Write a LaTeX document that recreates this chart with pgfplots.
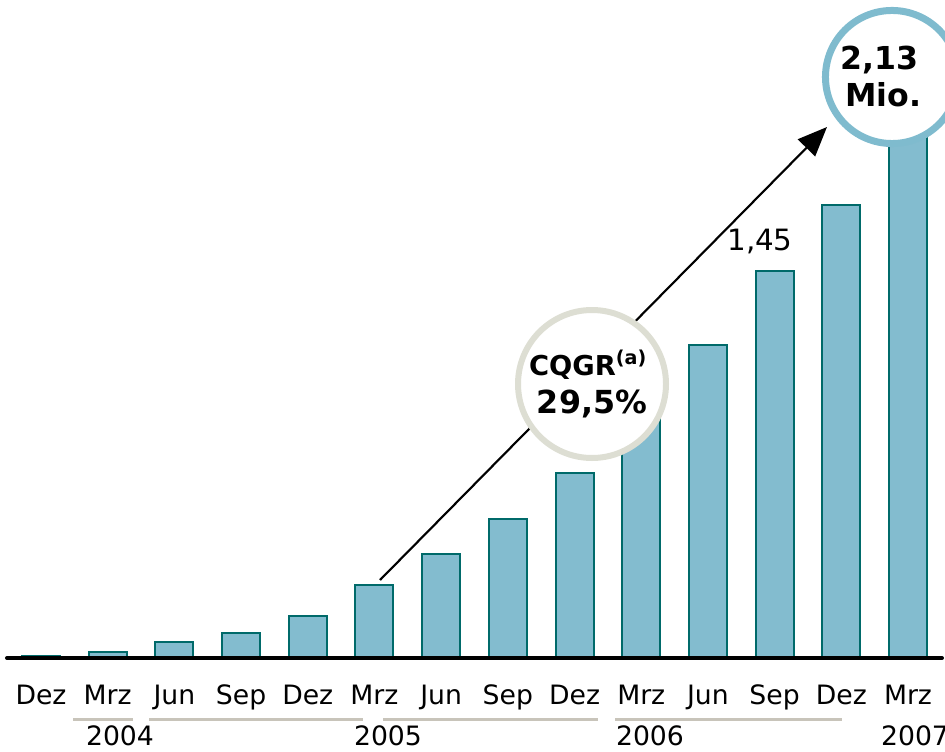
\documentclass[border=0pt]{standalone}
\usepackage{pgfplots}
\pgfplotsset{compat=1.18}
\usepackage{fontspec}
\setmainfont{DejaVu Sans}
\usetikzlibrary{arrows.meta}
\definecolor{barfill}{RGB}{131,188,207}
\definecolor{baredge}{RGB}{0,106,106}
\definecolor{yearline}{RGB}{200,196,186}
\definecolor{ringgrey}{RGB}{221,222,211}
\definecolor{ringblue}{RGB}{127,187,206}
% image pixel (x from left, y from top) -> tikz point; axis lower-left (px 7, 658) is the origin
\newcommand\pp[2]{({((#1)-7)*0.75pt},{(658-(#2))*0.75pt})}
\pgfplotstableread{
x y
0 0.009
1 0.024
2 0.059
3 0.095
4 0.158
5 0.273
6 0.39
7 0.521
8 0.693
9 0.90
10 1.173
11 1.45
12 1.697
13 2.13
}\datatable
\begin{document}
\begin{tikzpicture}
\useasboundingbox \pp{0}{751} rectangle \pp{945}{0};
\clip \pp{0}{751} rectangle \pp{945}{0};
\begin{axis}[
  at={(0,0)}, anchor=south west,
  scale only axis,
  width=701.25pt, height=493.5pt,
  xmin=-0.51, xmax=13.51,
  ymin=0, ymax=2.465,
  axis line style={draw=none},
  ytick=\empty,
  xtick=data,
  xticklabels={Dez,Mrz,Jun,Sep,Dez,Mrz,Jun,Sep,Dez,Mrz,Jun,Sep,Dez,Mrz},
  major tick length=0pt,
  xticklabel style={font=\fontsize{20}{24}\selectfont, anchor=base, yshift=-34.5pt},
  clip=false,
]
\addplot[ybar, bar width=28.5pt, fill=barfill, draw=baredge, line width=1.5pt] table[x=x,y=y] {\datatable};
\end{axis}
% baseline
\draw[line width=3pt, line cap=round] \pp{7}{658} -- \pp{942}{658};
% year lines
\draw[yearline, line width=2.25pt] \pp{73}{719} -- \pp{133}{719};
\draw[yearline, line width=2.25pt] \pp{149}{719} -- \pp{363}{719};
\draw[yearline, line width=2.25pt] \pp{383}{719} -- \pp{598}{719};
\draw[yearline, line width=2.25pt] \pp{615}{719} -- \pp{842}{719};
% year labels
\begin{scope}[font=\fontsize{20}{24}\selectfont]
\node[anchor=base, inner sep=0] at \pp{120}{745} {2004};
\node[anchor=base, inner sep=0] at \pp{388}{745} {2005};
\node[anchor=base, inner sep=0] at \pp{650}{745} {2006};
\node[anchor=base, inner sep=0] at \pp{915}{745} {2007};
\end{scope}
% arrow
\draw[line width=1.6pt, -{Triangle[length=22pt, width=18pt]}] \pp{380}{580} -- \pp{827}{127};
% 1,45 label
\node[anchor=base, inner sep=0, font=\fontsize{22}{26}\selectfont] at \pp{760}{250} {1,45};
% circle 1
\draw[ringgrey, line width=4.5pt, fill=white] \pp{592}{384} circle (55.5pt);
\node[anchor=base, inner sep=0, font=\fontsize{20.5}{24}\selectfont\bfseries] at \pp{588}{375} {CQGR\textsuperscript{(a)}};
\node[anchor=base, inner sep=0, font=\fontsize{23.8}{28}\selectfont\bfseries] at \pp{592}{413} {29,5\%};
% circle 2
\draw[ringblue, line width=5.25pt, fill=white] \pp{892}{77} circle (49.9pt);
\node[anchor=base, inner sep=0, font=\fontsize{23.7}{28}\selectfont\bfseries] at \pp{879}{70} {2,13};
\node[anchor=base, inner sep=0, font=\fontsize{23.7}{28}\selectfont\bfseries] at \pp{883}{107} {Mio.};
\end{tikzpicture}
\end{document}
